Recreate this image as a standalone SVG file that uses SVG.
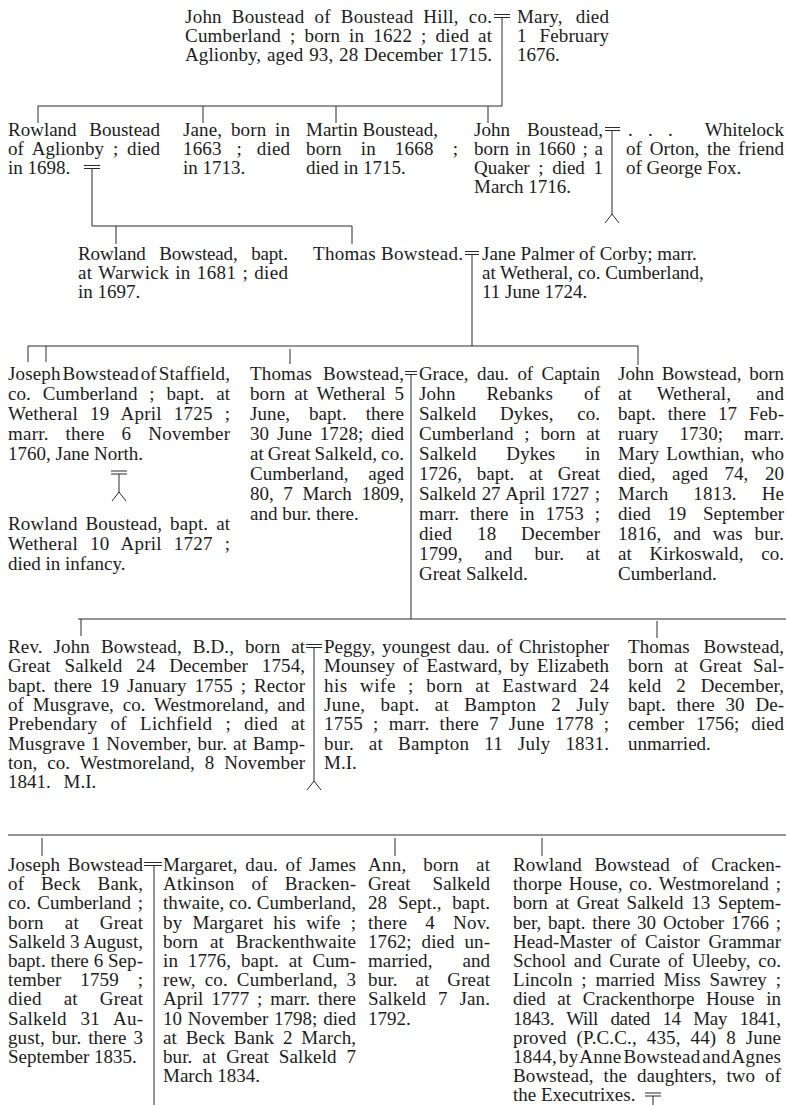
<svg xmlns="http://www.w3.org/2000/svg" width="786" height="1105" viewBox="0 0 786 1105">
<style>
.t{font-family:"Liberation Serif","Times New Roman",serif;font-size:19px;fill:#1c1c1c}
.c{stroke:#2a2a2a;stroke-width:1;fill:none}
</style>
<rect width="786" height="1105" fill="#fff"/>
<g id="connectors">
<path class="c" d="M494,14.5H510M494,17.5H510M502,17.5V106"/>
<path class="c" d="M38,106H502M38,106V123M203,106V123M336,106V123M488,106V123"/>
<path class="c" d="M84,165.5H100M84,168.5H100M92,168.5V226M92,226H352M116,226V244M352,226V244"/>
<path class="c" d="M605,127.5H620M605,130.5H620M612,130.5V214M612,214L605,223M612,214L619,223"/>
<path class="c" d="M465,251.5H479M465,254.5H479M472,254.5V346M28,346H638M28,346V362M46,346V362M290,349V364M638,346V365"/>
<path class="c" d="M111,471H127M111,474H127M119,474V492M119,492L112,501M119,492L126,501"/>
<path class="c" d="M405,371.5H417M405,374.5H417M411,374.5V619M78,619H786M81,619V636M657,621V638"/>
<path class="c" d="M306,644.5H322M306,647.5H322M314,647.5V781M314,781L307,790M314,781L321,790"/>
<path class="c" d="M8,835H786M42,838V856M395,838V856M542,838V856"/>
<path class="c" d="M144,862.5H162M144,865.5H162M154,865.5V1105"/>
<path class="c" d="M645,1093H661M645,1096H661M653,1096V1105"/>
</g>
<g id="john-boustead-1622">
<text class="t" x="185" y="23" textLength="307" lengthAdjust="spacing" style="word-spacing:5px">John Boustead of Boustead Hill, co.</text>
<text class="t" x="185" y="42" textLength="307" lengthAdjust="spacing" style="word-spacing:4px">Cumberland ; born in 1622 ; died at</text>
<text class="t" x="185" y="61" textLength="307" lengthAdjust="spacing" style="word-spacing:1px">Aglionby, aged 93, 28 December 1715.</text>
</g>
<g id="mary">
<text class="t" x="517" y="23" textLength="92" lengthAdjust="spacing" style="word-spacing:8px">Mary, died</text>
<text class="t" x="517" y="42" textLength="92" lengthAdjust="spacing" style="word-spacing:8px">1 February</text>
<text class="t" x="517" y="61">1676.</text>
</g>
<g id="rowland-boustead-aglionby">
<text class="t" x="8" y="136" textLength="152" lengthAdjust="spacing" style="word-spacing:8px">Rowland Boustead</text>
<text class="t" x="8" y="155" textLength="152" lengthAdjust="spacing" style="word-spacing:4px">of Aglionby ; died</text>
<text class="t" x="8" y="174">in 1698.</text>
</g>
<g id="jane-1663">
<text class="t" x="183" y="136" textLength="107" lengthAdjust="spacing" style="word-spacing:4px">Jane, born in</text>
<text class="t" x="183" y="155" textLength="107" lengthAdjust="spacing" style="word-spacing:10px">1663 ; died</text>
<text class="t" x="183" y="174">in 1713.</text>
</g>
<g id="martin-boustead">
<text class="t" x="306" y="136">Martin Boustead,</text>
<text class="t" x="306" y="155" textLength="152" lengthAdjust="spacing" style="word-spacing:14px">born in 1668 ;</text>
<text class="t" x="306" y="174">died in 1715.</text>
</g>
<g id="john-boustead-1660">
<text class="t" x="474" y="136" textLength="129" lengthAdjust="spacing" style="word-spacing:12px">John Boustead,</text>
<text class="t" x="474" y="155" textLength="129" lengthAdjust="spacing" style="word-spacing:2px">born in 1660 ; a</text>
<text class="t" x="474" y="174" textLength="129" lengthAdjust="spacing" style="word-spacing:4px">Quaker ; died 1</text>
<text class="t" x="474" y="193">March 1716.</text>
</g>
<g id="whitelock">
<text class="t" x="628" y="136">.</text>
<text class="t" x="648" y="136">.</text>
<text class="t" x="668" y="136">.</text>
<text class="t" x="784" y="136" text-anchor="end">Whitelock</text>
<text class="t" x="626" y="155" textLength="158" lengthAdjust="spacing" style="word-spacing:3px">of Orton, the friend</text>
<text class="t" x="626" y="174">of George Fox.</text>
</g>
<g id="rowland-bowstead-1681">
<text class="t" x="78" y="260" textLength="210" lengthAdjust="spacing" style="word-spacing:9px">Rowland Bowstead, bapt.</text>
<text class="t" x="78" y="279" textLength="210" lengthAdjust="spacing" style="word-spacing:1px">at Warwick in 1681 ; died</text>
<text class="t" x="78" y="298">in 1697.</text>
</g>
<g id="thomas-bowstead-1724">
<text class="t" x="313" y="260" textLength="150" lengthAdjust="spacing">Thomas Bowstead.</text>
</g>
<g id="jane-palmer">
<text class="t" x="482" y="260">Jane Palmer of Corby; marr.</text>
<text class="t" x="482" y="279">at Wetheral, co. Cumberland,</text>
<text class="t" x="482" y="298">11 June 1724.</text>
</g>
<g id="joseph-bowstead-staffield">
<text class="t" x="8" y="380" textLength="222" lengthAdjust="spacing" style="word-spacing:-3px">Joseph Bowstead of Staffield,</text>
<text class="t" x="8" y="400" textLength="222" lengthAdjust="spacing" style="word-spacing:7px">co. Cumberland ; bapt. at</text>
<text class="t" x="8" y="420" textLength="222" lengthAdjust="spacing" style="word-spacing:7px">Wetheral 19 April 1725 ;</text>
<text class="t" x="8" y="440" textLength="222" lengthAdjust="spacing" style="word-spacing:12px">marr. there 6 November</text>
<text class="t" x="8" y="460">1760, Jane North.</text>
</g>
<g id="rowland-boustead-1727">
<text class="t" x="8" y="530" textLength="222" lengthAdjust="spacing" style="word-spacing:3px">Rowland Boustead, bapt. at</text>
<text class="t" x="8" y="550" textLength="222" lengthAdjust="spacing" style="word-spacing:7px">Wetheral 10 April 1727 ;</text>
<text class="t" x="8" y="570">died in infancy.</text>
</g>
<g id="thomas-bowstead-1728">
<text class="t" x="250" y="380" textLength="154" lengthAdjust="spacing" style="word-spacing:6px">Thomas Bowstead,</text>
<text class="t" x="250" y="400" textLength="154" lengthAdjust="spacing" style="word-spacing:4px">born at Wetheral 5</text>
<text class="t" x="250" y="420" textLength="154" lengthAdjust="spacing" style="word-spacing:14px">June, bapt. there</text>
<text class="t" x="250" y="440" textLength="154" lengthAdjust="spacing" style="word-spacing:3px">30 June 1728; died</text>
<text class="t" x="250" y="460" textLength="154" lengthAdjust="spacing" style="word-spacing:-1px">at Great Salkeld, co.</text>
<text class="t" x="250" y="480" textLength="154" lengthAdjust="spacing" style="word-spacing:15px">Cumberland, aged</text>
<text class="t" x="250" y="500" textLength="154" lengthAdjust="spacing" style="word-spacing:5px">80, 7 March 1809,</text>
<text class="t" x="250" y="520">and bur. there.</text>
</g>
<g id="grace-rebanks">
<text class="t" x="419" y="380" textLength="181" lengthAdjust="spacing" style="word-spacing:4px">Grace, dau. of Captain</text>
<text class="t" x="419" y="400" textLength="181" lengthAdjust="spacing" style="word-spacing:26px">John Rebanks of</text>
<text class="t" x="419" y="420" textLength="181" lengthAdjust="spacing" style="word-spacing:19px">Salkeld Dykes, co.</text>
<text class="t" x="419" y="440" textLength="181" lengthAdjust="spacing" style="word-spacing:6px">Cumberland ; born at</text>
<text class="t" x="419" y="460" textLength="181" lengthAdjust="spacing" style="word-spacing:25px">Salkeld Dykes in</text>
<text class="t" x="419" y="480" textLength="181" lengthAdjust="spacing" style="word-spacing:10px">1726, bapt. at Great</text>
<text class="t" x="419" y="500" textLength="181" lengthAdjust="spacing" style="word-spacing:1px">Salkeld 27 April 1727 ;</text>
<text class="t" x="419" y="520" textLength="181" lengthAdjust="spacing" style="word-spacing:6px">marr. there in 1753 ;</text>
<text class="t" x="419" y="540" textLength="181" lengthAdjust="spacing" style="word-spacing:20px">died 18 December</text>
<text class="t" x="419" y="560" textLength="181" lengthAdjust="spacing" style="word-spacing:17px">1799, and bur. at</text>
<text class="t" x="419" y="580">Great Salkeld.</text>
</g>
<g id="john-bowstead-1730">
<text class="t" x="618" y="380" textLength="166" lengthAdjust="spacing" style="word-spacing:3px">John Bowstead, born</text>
<text class="t" x="618" y="400" textLength="166" lengthAdjust="spacing" style="word-spacing:20px">at Wetheral, and</text>
<text class="t" x="618" y="420" textLength="166" lengthAdjust="spacing" style="word-spacing:7px">bapt. there 17 Feb-</text>
<text class="t" x="618" y="440" textLength="166" lengthAdjust="spacing" style="word-spacing:16px">ruary 1730; marr.</text>
<text class="t" x="618" y="460" textLength="166" lengthAdjust="spacing" style="word-spacing:2px">Mary Lowthian, who</text>
<text class="t" x="618" y="480" textLength="166" lengthAdjust="spacing" style="word-spacing:12px">died, aged 74, 20</text>
<text class="t" x="618" y="500" textLength="166" lengthAdjust="spacing" style="word-spacing:20px">March 1813. He</text>
<text class="t" x="618" y="520" textLength="166" lengthAdjust="spacing" style="word-spacing:12px">died 19 September</text>
<text class="t" x="618" y="540" textLength="166" lengthAdjust="spacing" style="word-spacing:7px">1816, and was bur.</text>
<text class="t" x="618" y="560" textLength="166" lengthAdjust="spacing" style="word-spacing:13px">at Kirkoswald, co.</text>
<text class="t" x="618" y="580">Cumberland.</text>
</g>
<g id="rev-john-bowstead">
<text class="t" x="8" y="653" textLength="297" lengthAdjust="spacing" style="word-spacing:6px">Rev. John Bowstead, B.D., born at</text>
<text class="t" x="8" y="672.3" textLength="297" lengthAdjust="spacing" style="word-spacing:9px">Great Salkeld 24 December 1754,</text>
<text class="t" x="8" y="691.6" textLength="297" lengthAdjust="spacing" style="word-spacing:3px">bapt. there 19 January 1755 ; Rector</text>
<text class="t" x="8" y="710.9" textLength="297" lengthAdjust="spacing" style="word-spacing:4px">of Musgrave, co. Westmoreland, and</text>
<text class="t" x="8" y="730.2" textLength="297" lengthAdjust="spacing" style="word-spacing:8px">Prebendary of Lichfield ; died at</text>
<text class="t" x="8" y="749.5" textLength="297" lengthAdjust="spacing" style="word-spacing:1px">Musgrave 1 November, bur. at Bamp-</text>
<text class="t" x="8" y="768.8" textLength="297" lengthAdjust="spacing" style="word-spacing:5px">ton, co. Westmoreland, 8 November</text>
<text class="t" x="8" y="788.1" style="word-spacing:8px">1841. M.I.</text>
</g>
<g id="peggy-mounsey">
<text class="t" x="324" y="653" textLength="285" lengthAdjust="spacing" style="word-spacing:2px">Peggy, youngest dau. of Christopher</text>
<text class="t" x="324" y="672.3" textLength="285" lengthAdjust="spacing" style="word-spacing:3px">Mounsey of Eastward, by Elizabeth</text>
<text class="t" x="324" y="691.6" textLength="285" lengthAdjust="spacing" style="word-spacing:7px">his wife ; born at Eastward 24</text>
<text class="t" x="324" y="710.9" textLength="285" lengthAdjust="spacing" style="word-spacing:10px">June, bapt. at Bampton 2 July</text>
<text class="t" x="324" y="730.2" textLength="285" lengthAdjust="spacing" style="word-spacing:5px">1755 ; marr. there 7 June 1778 ;</text>
<text class="t" x="324" y="749.5" textLength="285" lengthAdjust="spacing" style="word-spacing:10px">bur. at Bampton 11 July 1831.</text>
<text class="t" x="324" y="768.8">M.I.</text>
</g>
<g id="thomas-bowstead-1756">
<text class="t" x="628" y="653" textLength="156" lengthAdjust="spacing" style="word-spacing:9px">Thomas Bowstead,</text>
<text class="t" x="628" y="672.3" textLength="156" lengthAdjust="spacing" style="word-spacing:6px">born at Great Sal-</text>
<text class="t" x="628" y="691.6" textLength="156" lengthAdjust="spacing" style="word-spacing:10px">keld 2 December,</text>
<text class="t" x="628" y="710.9" textLength="156" lengthAdjust="spacing" style="word-spacing:6px">bapt. there 30 De-</text>
<text class="t" x="628" y="730.2" textLength="156" lengthAdjust="spacing" style="word-spacing:7px">cember 1756; died</text>
<text class="t" x="628" y="749.5">unmarried.</text>
</g>
<g id="joseph-bowstead-beck-bank">
<text class="t" x="8" y="871" textLength="135" lengthAdjust="spacing" style="word-spacing:3px">Joseph Bowstead</text>
<text class="t" x="8" y="890.2" textLength="135" lengthAdjust="spacing" style="word-spacing:12px">of Beck Bank,</text>
<text class="t" x="8" y="909.4" textLength="135" lengthAdjust="spacing" style="word-spacing:2px">co. Cumberland ;</text>
<text class="t" x="8" y="928.6" textLength="135" lengthAdjust="spacing" style="word-spacing:16px">born at Great</text>
<text class="t" x="8" y="947.8" textLength="135" lengthAdjust="spacing">Salkeld 3 August,</text>
<text class="t" x="8" y="967" textLength="135" lengthAdjust="spacing">bapt. there 6 Sep-</text>
<text class="t" x="8" y="986.2" textLength="135" lengthAdjust="spacing" style="word-spacing:14px">tember 1759 ;</text>
<text class="t" x="8" y="1005.4" textLength="135" lengthAdjust="spacing" style="word-spacing:17px">died at Great</text>
<text class="t" x="8" y="1024.6" textLength="135" lengthAdjust="spacing" style="word-spacing:9px">Salkeld 31 Au-</text>
<text class="t" x="8" y="1043.8" textLength="135" lengthAdjust="spacing" style="word-spacing:2px">gust, bur. there 3</text>
<text class="t" x="8" y="1063">September 1835.</text>
</g>
<g id="margaret-atkinson">
<text class="t" x="163" y="871" textLength="193" lengthAdjust="spacing" style="word-spacing:3px">Margaret, dau. of James</text>
<text class="t" x="163" y="890.2" textLength="193" lengthAdjust="spacing" style="word-spacing:12px">Atkinson of Bracken-</text>
<text class="t" x="163" y="909.4" textLength="193" lengthAdjust="spacing">thwaite, co. Cumberland,</text>
<text class="t" x="163" y="928.6" textLength="193" lengthAdjust="spacing" style="word-spacing:5px">by Margaret his wife ;</text>
<text class="t" x="163" y="947.8" textLength="193" lengthAdjust="spacing" style="word-spacing:7px">born at Brackenthwaite</text>
<text class="t" x="163" y="967" textLength="193" lengthAdjust="spacing" style="word-spacing:5px">in 1776, bapt. at Cum-</text>
<text class="t" x="163" y="986.2" textLength="193" lengthAdjust="spacing" style="word-spacing:4px">rew, co. Cumberland, 3</text>
<text class="t" x="163" y="1005.4" textLength="193" lengthAdjust="spacing" style="word-spacing:3px">April 1777 ; marr. there</text>
<text class="t" x="163" y="1024.6" textLength="193" lengthAdjust="spacing" style="word-spacing:1px">10 November 1798; died</text>
<text class="t" x="163" y="1043.8" textLength="193" lengthAdjust="spacing" style="word-spacing:4px">at Beck Bank 2 March,</text>
<text class="t" x="163" y="1063" textLength="193" lengthAdjust="spacing" style="word-spacing:5px">bur. at Great Salkeld 7</text>
<text class="t" x="163" y="1082.2">March 1834.</text>
</g>
<g id="ann-1762">
<text class="t" x="368" y="871" textLength="122" lengthAdjust="spacing" style="word-spacing:12px">Ann, born at</text>
<text class="t" x="368" y="890.2" textLength="122" lengthAdjust="spacing" style="word-spacing:17px">Great Salkeld</text>
<text class="t" x="368" y="909.4" textLength="122" lengthAdjust="spacing" style="word-spacing:6px">28 Sept., bapt.</text>
<text class="t" x="368" y="928.6" textLength="122" lengthAdjust="spacing" style="word-spacing:13px">there 4 Nov.</text>
<text class="t" x="368" y="947.8" textLength="122" lengthAdjust="spacing" style="word-spacing:5px">1762; died un-</text>
<text class="t" x="368" y="967" textLength="122" lengthAdjust="spacing" style="word-spacing:25px">married, and</text>
<text class="t" x="368" y="986.2" textLength="122" lengthAdjust="spacing" style="word-spacing:13px">bur. at Great</text>
<text class="t" x="368" y="1005.4" textLength="122" lengthAdjust="spacing" style="word-spacing:7px">Salkeld 7 Jan.</text>
<text class="t" x="368" y="1024.6">1792.</text>
</g>
<g id="rowland-bowstead-crackenthorpe">
<text class="t" x="513" y="871" textLength="268" lengthAdjust="spacing" style="word-spacing:8px">Rowland Bowstead of Cracken-</text>
<text class="t" x="513" y="890.2" textLength="268" lengthAdjust="spacing" style="word-spacing:2px">thorpe House, co. Westmoreland ;</text>
<text class="t" x="513" y="909.4" textLength="268" lengthAdjust="spacing" style="word-spacing:3px">born at Great Salkeld 13 Septem-</text>
<text class="t" x="513" y="928.6" textLength="268" lengthAdjust="spacing" style="word-spacing:2px">ber, bapt. there 30 October 1766 ;</text>
<text class="t" x="513" y="947.8" textLength="268" lengthAdjust="spacing" style="word-spacing:4px">Head-Master of Caistor Grammar</text>
<text class="t" x="513" y="967" textLength="268" lengthAdjust="spacing" style="word-spacing:3px">School and Curate of Uleeby, co.</text>
<text class="t" x="513" y="986.2" textLength="268" lengthAdjust="spacing" style="word-spacing:4px">Lincoln ; married Miss Sawrey ;</text>
<text class="t" x="513" y="1005.4" textLength="268" lengthAdjust="spacing" style="word-spacing:7px">died at Crackenthorpe House in</text>
<text class="t" x="513" y="1024.6" textLength="268" lengthAdjust="spacing" style="word-spacing:8px">1843. Will dated 14 May 1841,</text>
<text class="t" x="513" y="1043.8" textLength="268" lengthAdjust="spacing" style="word-spacing:5px">proved (P.C.C., 435, 44) 8 June</text>
<text class="t" x="513" y="1063" textLength="268" lengthAdjust="spacing" style="word-spacing:-3px">1844, by Anne Bowstead and Agnes</text>
<text class="t" x="513" y="1082.2" textLength="268" lengthAdjust="spacing" style="word-spacing:5px">Bowstead, the daughters, two of</text>
<text class="t" x="513" y="1101.4">the Executrixes.</text>
</g>
</svg>
